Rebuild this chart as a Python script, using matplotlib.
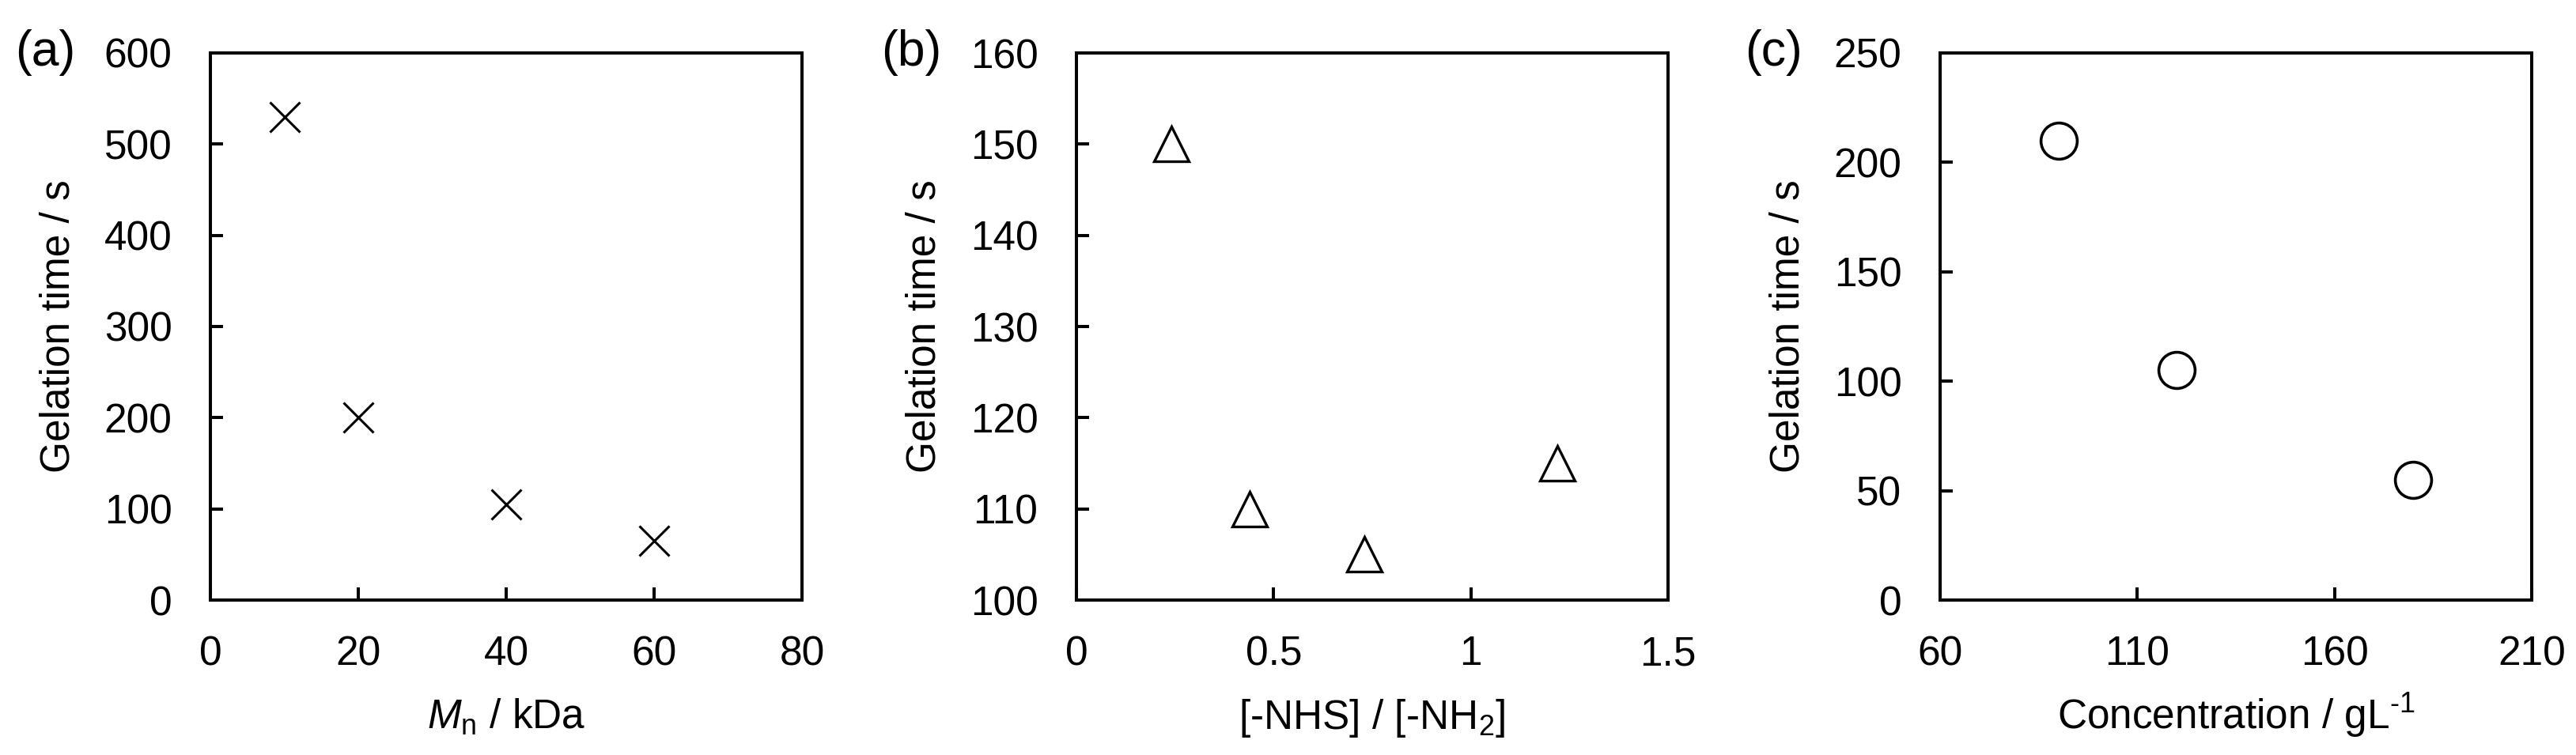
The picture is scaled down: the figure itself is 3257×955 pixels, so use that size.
import matplotlib
matplotlib.use("Agg")
import matplotlib.pyplot as plt

plt.rcParams['font.family'] = ['Liberation Sans', 'DejaVu Sans']
plt.rcParams['mathtext.fontset'] = 'custom'
plt.rcParams['mathtext.rm'] = 'Liberation Sans'
plt.rcParams['mathtext.it'] = 'Liberation Sans:italic'
plt.rcParams['mathtext.default'] = 'regular'

# (a) molecular weight
mn_kda = [10, 20, 40, 60]
gel_time_a = [530, 200, 105, 65]

# (b) NHS / NH2 ratio
nhs_ratio = [0.24, 0.44, 0.73, 1.22]
gel_time_b = [150, 110, 105, 115]

# (c) concentration
conc = [90, 120, 180]
gel_time_c = [210, 105, 55]

FS = 37

fig = plt.figure(figsize=(32.57, 9.55), dpi=100)

lefts = [266 / 3257, 1361 / 3257, 2453 / 3257]
width = 748 / 3257
bottom = 1 - 759 / 955
height = 692 / 955

panels = [
    dict(x=mn_kda, y=gel_time_a, marker='x', ms=27, mew=2.2,
         xlim=(0, 80), xticks=[0, 20, 40, 60, 80],
         ylim=(0, 600), yticks=[0, 100, 200, 300, 400, 500, 600],
         xtl=None,
         xlabel=r'$\mathit{M}_{\mathrm{n}}$ / kDa', tag='(a)'),
    dict(x=nhs_ratio, y=gel_time_b, marker='^', ms=32, mew=2.4,
         xlim=(0, 1.5), xticks=[0, 0.5, 1, 1.5],
         ylim=(100, 160), yticks=[100, 110, 120, 130, 140, 150, 160],
         xtl=['0', '0.5', '1', '1.5'],
         xlabel=r'[-NHS] / [-NH$_2$]', tag='(b)'),
    dict(x=conc, y=gel_time_c, marker='o', ms=33, mew=2.6,
         xlim=(60, 210), xticks=[60, 110, 160, 210],
         ylim=(0, 250), yticks=[0, 50, 100, 150, 200, 250],
         xtl=None,
         xlabel=r'Concentration / gL$^{\text{-1}}$', tag='(c)'),
]

for left, p in zip(lefts, panels):
    ax = fig.add_axes([left, bottom, width, height])
    ax.plot(p['x'], p['y'], linestyle='none', marker=p['marker'],
            markersize=p['ms'], markeredgewidth=p['mew'],
            markerfacecolor='none', markeredgecolor='black', clip_on=False)
    ax.set_xlim(*p['xlim'])
    ax.set_ylim(*p['ylim'])
    ax.set_xticks(p['xticks'])
    if p['xtl'] is not None:
        ax.set_xticklabels(p['xtl'])
    ax.set_yticks(p['yticks'])
    for s in ax.spines.values():
        s.set_linewidth(2.9)
    ax.tick_params(axis='both', direction='in', length=11.5, width=2.9,
                   labelsize=FS, top=False, right=False)
    ax.tick_params(axis='x', pad=32)
    ax.tick_params(axis='y', pad=35)
    ax.set_ylabel('Gelation time / s', fontsize=FS)
    ax.yaxis.set_label_coords(-0.224, 0.5)
    ax.text(0.5, (759 - 922) / 692, p['xlabel'], transform=ax.transAxes,
            fontsize=FS, ha='center', va='baseline')
    ax.text(-247 / 748, (759 - 83) / 692, p['tag'], transform=ax.transAxes,
            fontsize=45, ha='left', va='baseline')

fig.savefig('out.png', dpi=100)
